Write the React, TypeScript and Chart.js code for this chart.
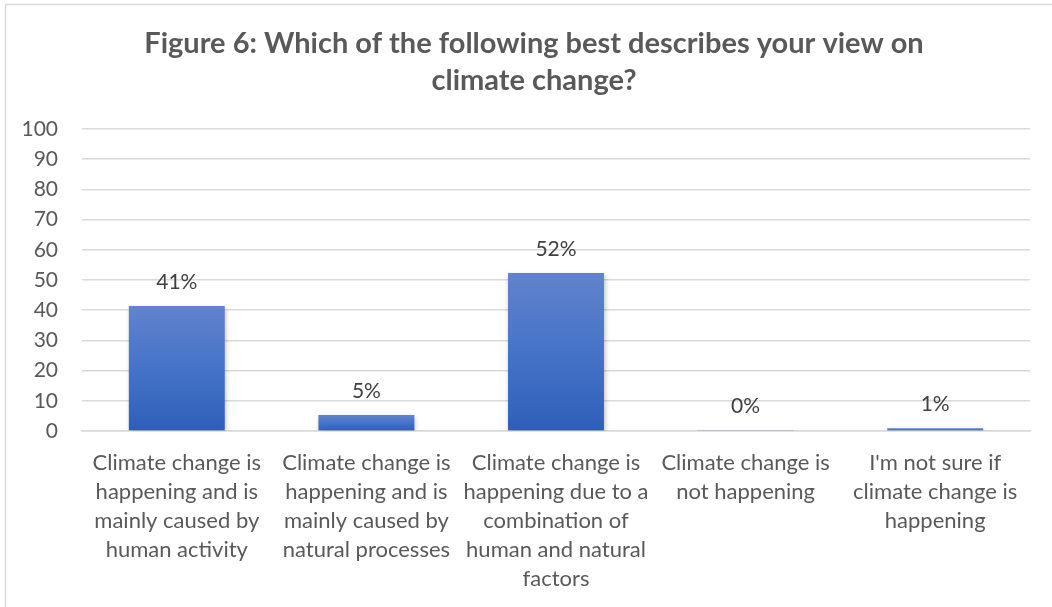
import React, { useEffect, useRef } from "react";
import { Chart, registerables } from "chart.js";

Chart.register(...registerables);

const titleLines = ["Figure 6: Which of the following best describes your view on", "climate change?"];
const categories: string[][] = [
  ["Climate change is", "happening and is", "mainly caused by", "human activity"],
  ["Climate change is", "happening and is", "mainly caused by", "natural processes"],
  ["Climate change is", "happening due to a", "combination of", "human and natural", "factors"],
  ["Climate change is", "not happening"],
  ["I'm not sure if", "climate change is", "happening"],
];
const values = [41.4, 5.3, 52.3, 0.3, 0.9];
const yMin = 0;
const yMax = 100;
const yStep = 10;

const FONT = "Lato, 'Open Sans', sans-serif";
const TEXT = "#595959";

const framePlugin = {
  id: "frame",
  beforeDraw(chart: any) {
    const ctx = chart.ctx;
    ctx.save();
    ctx.fillStyle = "#ffffff";
    ctx.fillRect(0, 0, chart.width, chart.height);
    ctx.strokeStyle = "#d9d9d9";
    ctx.lineWidth = 1.5;
    ctx.beginPath();
    ctx.moveTo(5.5, chart.height);
    ctx.lineTo(5.5, 4.5);
    ctx.lineTo(chart.width, 4.5);
    ctx.stroke();
    ctx.restore();
  },
};

const titlePlugin = {
  id: "customTitle",
  afterDraw(chart: any) {
    const ctx = chart.ctx;
    ctx.save();
    ctx.font = `bold 29px ${FONT}`;
    ctx.fillStyle = TEXT;
    ctx.textAlign = "center";
    ctx.textBaseline = "middle";
    const cx = 534;
    titleLines.forEach((line, i) => {
      ctx.fillText(line, cx, 44 + i * 37);
    });
    ctx.restore();
  },
};

const shadowPlugin = {
  id: "barShadow",
  beforeDatasetsDraw(chart: any) {
    const ctx = chart.ctx;
    ctx.save();
    ctx.shadowColor = "rgba(0,0,0,0.28)";
    ctx.shadowBlur = 5;
    ctx.shadowOffsetX = 1;
    ctx.shadowOffsetY = 2;
  },
  afterDatasetsDraw(chart: any) {
    chart.ctx.restore();
  },
};

const labelPlugin = {
  id: "valueLabels",
  afterDatasetsDraw(chart: any) {
    const ctx = chart.ctx;
    const meta = chart.getDatasetMeta(0);
    ctx.save();
    ctx.font = `21px ${FONT}`;
    ctx.fillStyle = "#404040";
    ctx.textAlign = "center";
    ctx.textBaseline = "middle";
    meta.data.forEach((bar: any, i: number) => {
      ctx.fillText(`${Math.round(values[i])}%`, bar.x, bar.y - 24);
    });
    ctx.restore();
  },
};

export default function App() {
  const ref = useRef<HTMLCanvasElement>(null);
  useEffect(() => {
    if (!ref.current) return;
    const chart = new Chart(ref.current, {
      type: "bar",
      data: {
        labels: categories,
        datasets: [
          {
            data: values,
            backgroundColor: (c: any) => {
              const ch = c.chart;
              const y = ch.scales?.y;
              if (!y || c.dataIndex === undefined) return "#4472c4";
              const v = values[c.dataIndex];
              const top = y.getPixelForValue(v);
              const bottom = y.getPixelForValue(0);
              if (!isFinite(top) || bottom - top < 0.5) return "#5d7fcc";
              const g = ch.ctx.createLinearGradient(0, top, 0, bottom);
              g.addColorStop(0, "#6283cc");
              g.addColorStop(0.5, "#4673c8");
              g.addColorStop(1, "#2e5fb8");
              return g;
            },
            borderWidth: 0,
            barPercentage: 1,
            categoryPercentage: 0.506,
          },
        ],
      },
      options: {
        responsive: false,
        animation: false,
        layout: { padding: { left: 0, right: 22, top: 129, bottom: 0 } },
        plugins: {
          legend: { display: false },
          tooltip: { enabled: false },
          title: { display: false },
        },
        scales: {
          x: {
            grid: { display: false, drawTicks: false },
            border: { display: true, color: "#d9d9d9", width: 1.5 },
            ticks: {
              color: TEXT,
              font: { family: FONT, size: 22, lineHeight: 1.32 },
              padding: 17,
              maxRotation: 0,
              autoSkip: false,
            },
            afterFit: (s: any) => {
              s.height = 176;
            },
          },
          y: {
            min: yMin,
            max: yMax,
            grid: { color: "#d9d9d9", lineWidth: 1.5, drawTicks: false },
            border: { display: false },
            ticks: {
              stepSize: yStep,
              color: TEXT,
              font: { family: FONT, size: 21 },
              padding: 24,
            },
            afterFit: (s: any) => {
              s.width = 82;
            },
          },
        },
      },
      plugins: [framePlugin, shadowPlugin, labelPlugin, titlePlugin],
    });
    return () => chart.destroy();
  }, []);
  return (
    <div style={{ position: "fixed", left: 0, top: 0, width: 1052, height: 607, background: "#fff" }}>
      <canvas ref={ref} width={1052} height={607} style={{ display: "block" }} />
    </div>
  );
}
